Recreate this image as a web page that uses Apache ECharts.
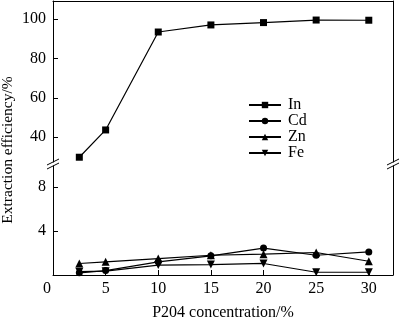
<!DOCTYPE html>
<html><head><meta charset="utf-8">
<script src="https://cdn.jsdelivr.net/npm/echarts@6/dist/echarts.min.js"></script>
<style>html,body{margin:0;padding:0;background:#fff}#c{width:400px;height:322px}</style>
</head><body><div id="c"></div>
<script>
const concentration = [2.5, 5, 10, 15, 20, 25, 30];
const inValues = [29.7, 43.6, 93.5, 97.1, 98.3, 99.6, 99.5];
const cdValues = [0.2, 0.4, 1.2, 1.75, 2.45, 1.8, 2.1];
const znValues = [1.05, 1.2, 1.5, 1.8, 1.9, 2.05, 1.25];
const feValues = [0.3, 0.35, 0.9, 0.95, 1.05, 0.25, 0.25];
const xTicks = [0, 5, 10, 15, 20, 25, 30];
const yTopTicks = [40, 60, 80, 100];
const yBottomTicks = [4, 8];

const FONT = 'Liberation Serif';
const pairs = v => concentration.map((x, i) => [x, v[i]]);
const downTri = 'path://M0,0 L10,0 L5,9 Z';

const chart = echarts.init(document.getElementById('c'), null, {renderer: 'canvas'});
const lineStyle = {color: '#000', width: 1.2};
const baseSeries = (name, data, sym, size, xi, yi) => ({
  name, type: 'line', data: pairs(data), xAxisIndex: xi, yAxisIndex: yi,
  symbol: sym, symbolSize: size, showSymbol: true,
  lineStyle, itemStyle: {color: '#000'}, animation: false
});
const axLine = {show: true, lineStyle: {color: '#000', width: 1}};

chart.setOption({
  animation: false,
  grid: [
    {left: 53, width: 340, top: 1, height: 161},
    {left: 53, width: 340, top: 166, height: 110}
  ],
  xAxis: [
    {gridIndex: 0, type: 'value', min: 0, max: 32.3, position: 'top',
     axisLine: axLine, axisTick: {show: false}, axisLabel: {show: false}, splitLine: {show: false}},
    {gridIndex: 1, type: 'value', min: 0, max: 32.3, position: 'bottom',
     axisLine: axLine,
     axisTick: {show: true, inside: true, length: 5, customValues: xTicks, lineStyle: {color: '#000'}},
     axisLabel: {show: true, customValues: xTicks, margin: 6, color: '#000', fontFamily: FONT, fontSize: 16,
       formatter: v => v === 0 ? '{z|0}' : String(v),
       rich: {z: {fontFamily: FONT, fontSize: 16, color: '#000', padding: [0, 12, 0, 0]}}},
     splitLine: {show: false},
     name: 'P204 concentration/%', nameLocation: 'middle', nameGap: 30,
     nameTextStyle: {color: '#000', fontFamily: FONT, fontSize: 16}}
  ],
  yAxis: [
    {gridIndex: 0, type: 'value', min: 27.27, max: 109.3, position: 'left',
     axisLine: axLine,
     axisTick: {show: true, inside: true, length: 5, customValues: yTopTicks, lineStyle: {color: '#000'}},
     axisLabel: {show: true, customValues: yTopTicks, margin: 7, color: '#000', fontFamily: FONT, fontSize: 16},
     splitLine: {show: false}},
    {gridIndex: 1, type: 'value', min: 0, max: 9.93, position: 'left',
     axisLine: axLine,
     axisTick: {show: true, inside: true, length: 5, customValues: yBottomTicks, lineStyle: {color: '#000'}},
     axisLabel: {show: true, customValues: yBottomTicks, margin: 7, color: '#000', fontFamily: FONT, fontSize: 16},
     splitLine: {show: false}},
    {gridIndex: 0, type: 'value', min: 27.27, max: 109.3, position: 'right',
     axisLine: axLine, axisTick: {show: false}, axisLabel: {show: false}, splitLine: {show: false}},
    {gridIndex: 1, type: 'value', min: 0, max: 9.93, position: 'right',
     axisLine: axLine, axisTick: {show: false}, axisLabel: {show: false}, splitLine: {show: false}}
  ],
  legend: {
    orient: 'vertical', left: 243, top: 92, itemWidth: 32, itemHeight: 8, itemGap: 0,
    textStyle: {color: '#000', fontFamily: FONT, fontSize: 16, padding: [0, 0, 0, 2]},
    data: ['In', 'Cd', 'Zn', 'Fe']
  },
  series: [
    baseSeries('In', inValues, 'rect', 7, 0, 0),
    baseSeries('Cd', cdValues, 'circle', 7, 1, 1),
    baseSeries('Zn', znValues, 'triangle', 8, 1, 1),
    baseSeries('Fe', feValues, downTri, 8, 1, 1)
  ],
  graphic: [
    {type: 'line', shape: {x1: 47, y1: 165, x2: 59, y2: 159}, style: {stroke: '#000', lineWidth: 1}},
    {type: 'line', shape: {x1: 47, y1: 169, x2: 59, y2: 163}, style: {stroke: '#000', lineWidth: 1}},
    {type: 'line', shape: {x1: 387, y1: 165, x2: 399, y2: 159}, style: {stroke: '#000', lineWidth: 1}},
    {type: 'line', shape: {x1: 387, y1: 169, x2: 399, y2: 163}, style: {stroke: '#000', lineWidth: 1}},
    {type: 'text', x: 8, y: 150, rotation: Math.PI / 2,
     style: {text: 'Extraction efficiency/%', fill: '#000', font: '15.5px "Liberation Serif"',
       textAlign: 'center', textVerticalAlign: 'middle'}}
  ]
});
</script></body></html>
